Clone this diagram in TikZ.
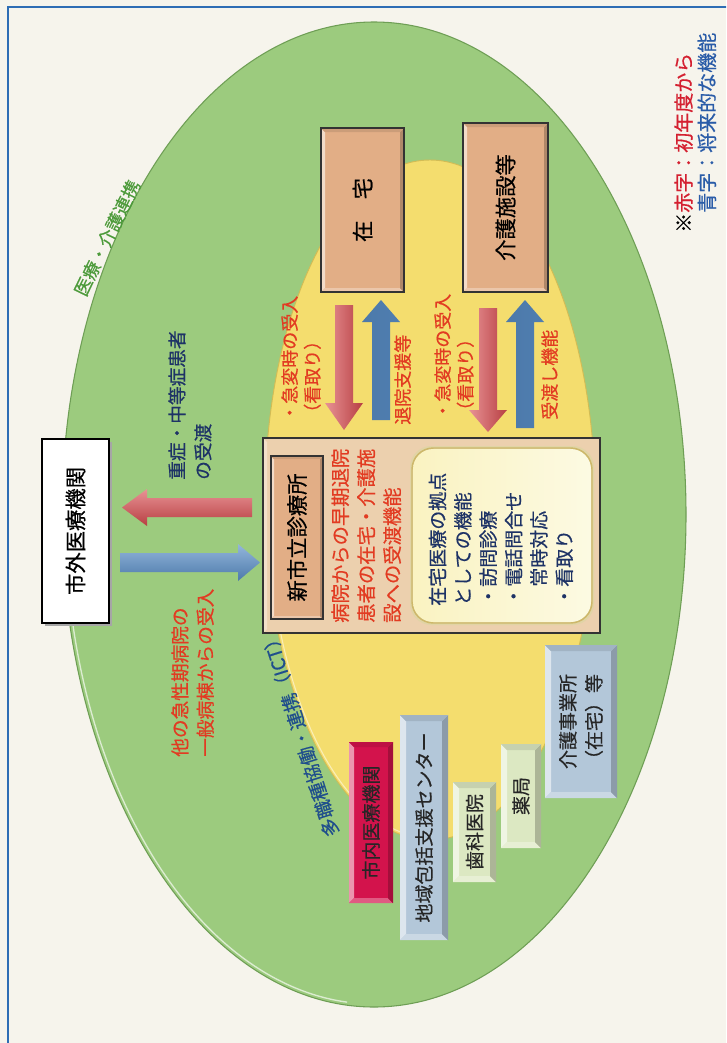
\documentclass[tikz,border=0pt]{standalone}
\usepackage{fontspec}
\setmainfont{Noto Sans CJK JP}[FakeBold=0.5]
\usetikzlibrary{calc}
\definecolor{bg}{HTML}{F6F4EC}
\definecolor{framec}{HTML}{2E6DB4}
\definecolor{grn}{HTML}{9CCB7E}
\definecolor{grnd}{HTML}{6E9E55}
\definecolor{yel}{HTML}{F4DD6E}
\definecolor{yeld}{HTML}{D2BC55}
\definecolor{tan}{HTML}{E2AE86}
\definecolor{peach}{HTML}{ECD0AE}
\definecolor{cream}{HTML}{FBF8D6}
\definecolor{creamd}{HTML}{CDB86A}
\definecolor{redtxt}{HTML}{E23B22}
\definecolor{navy}{HTML}{1E3366}
\definecolor{icttxt}{HTML}{1F4E8C}
\definecolor{grntxt}{HTML}{4C9A3A}
\definecolor{crim}{HTML}{D3134C}
\definecolor{bluebox}{HTML}{B3C7D9}
\definecolor{grnbox}{HTML}{DCE8C2}
\definecolor{legr}{HTML}{D42030}
\definecolor{legb}{HTML}{2A5CA8}
\definecolor{arrR}{HTML}{D84A4E}
\definecolor{arrB}{HTML}{5A8FC8}
\newcommand\fsz[2]{\fontsize{#1}{#2}\selectfont}
% bevelled box: x1 y1 x2 y2 colour depth
\newcommand\bevel[6]{%
 \fill[#5] (#1,#2) rectangle (#3,#4);
 \fill[#5!45!white] (#1,#2) -- (#1+#6,#2+#6) -- (#1+#6,#4-#6) -- (#1,#4) -- cycle;
 \fill[#5!70!white] (#1,#4) -- (#1+#6,#4-#6) -- (#3-#6,#4-#6) -- (#3,#4) -- cycle;
 \fill[#5!78!black] (#3,#2) -- (#3-#6,#2+#6) -- (#3-#6,#4-#6) -- (#3,#4) -- cycle;
 \fill[#5!90!black] (#1,#2) -- (#1+#6,#2+#6) -- (#3-#6,#2+#6) -- (#3,#2) -- cycle;
}
\tikzset{
 rt/.style={rotate=90, anchor=north west, inner sep=0pt, align=left},
 rc/.style={rotate=90, anchor=center, inner sep=0pt, align=left},
 redarrow/.style={left color=arrR!60!white, middle color=arrR, right color=arrR!85!black},
 bluearrow/.style={left color=arrB!85!black, middle color=arrB!65!white, right color=arrB!88!black},
 redharrow/.style={top color=arrR!60!white, middle color=arrR, bottom color=arrR!85!black},
 blueharrow/.style={top color=arrB!65!white, middle color=arrB, bottom color=arrB!85!black},
 darkborder/.style={draw=black!80, line width=0.9pt},
}
\begin{document}
\begin{tikzpicture}[x=0.75pt,y=-0.75pt]
\useasboundingbox (0,0) rectangle (726,1043);
\clip (0,0) rectangle (726,1043);
\fill[bg] (0,0) rectangle (726,1043);
\draw[framec, line width=2.2pt] (8,7) rectangle (780,1100);

% outer green ellipse
\fill[grn, draw=grnd, line width=0.8pt] (374,514.5) ellipse [x radius=312, y radius=492.5];
\draw[white, opacity=0.65, line width=1pt] (374,514.5) ++(175:309 and 489.5) arc[start angle=175, end angle=95, x radius=309, y radius=489.5];
% inner yellow ellipse
\fill[yel, draw=yeld, line width=0.7pt] (430,500) ellipse [x radius=165, y radius=340];
\draw[white, opacity=0.5, line width=0.8pt] (430,500) ++(165:162.5 and 337.5) arc[start angle=165, end angle=100, x radius=162.5, y radius=337.5];

% legend
\node[rt, font=\fsz{15}{17.5}] (legend) at (674,233) {※\textcolor{legr}{赤字：初年度から}\\\phantom{※}\textcolor{legb}{青字：将来的な機能}};

% arc labels
\node[rc, rotate=-26, font=\fsz{13.5}{16}, text=grntxt] (iryokaigo) at (107,238) {医療・介護連携};
\node[rotate=107.5, anchor=center, inner sep=0pt, font=\fsz{14}{16}, text=icttxt] (ict) at (310,765) {多職種協働・連携};
\node[rotate=107.5, anchor=west, inner sep=0pt, font=\fsz{14}{16}, text=icttxt] (ictb) at (ict.east) {（ICT）};

% outside medical institution box
\fill[black!35] (45,442) rectangle (112,626);
\node[draw=black, line width=1.1pt, fill=white, rotate=90, minimum width=138pt, minimum height=50.25pt, inner sep=0pt, font=\fsz{16}{18}] (gaibu) at (75.5,531) {市外医療機関};

% home / care facility boxes
\bevel{321}{128}{404}{292}{tan}{4}
\draw[darkborder] (321,128) rectangle (404,292);
\node[rc, font=\fsz{16}{18}] (zaitaku) at (362.5,210) {在　宅};
\bevel{463}{123}{548}{292}{tan}{4}
\draw[darkborder] (463,123) rectangle (548,292);
\node[rc, font=\fsz{16}{18}] (kaigo) at (505.5,207.5) {介護施設等};

% new municipal clinic
\fill[peach] (263,438) rectangle (600,633);
\fill[white, opacity=0.35] (263,438) -- (267,442) -- (267,629) -- (263,633) -- cycle;
\draw[darkborder] (263,438) rectangle (600,633);
\bevel{271}{456}{323}{619}{tan}{3}
\draw[darkborder] (271,456) rectangle (323,619);
\node[rc, font=\fsz{16}{18}] (clinic) at (297,537.5) {新市立診療所};
\node[rt, font=\fsz{14.5}{19.5}, text=redtxt] (clinictxt) at (331,623) {病院からの早期退院\\患者の在宅・介護施\\設への受渡機能};
\fill[creamd!60!white, rounded corners=16pt] (410,446) rectangle (594,625);
\shade[rounded corners=15pt, left color=cream!80!yel, right color=cream!70!white] (413,449) rectangle (591,622);
\draw[creamd, line width=1.1pt, rounded corners=16pt] (412,448) rectangle (592,623);
\node[rt, font=\fsz{14.25}{19}, text=navy] (homecare) at (428.5,606) {在宅医療の拠点\\としての機能\\・訪問診療\\・電話問合せ\\\phantom{・}常時対応\\・看取り};

% vertical arrows
\shade[redarrow] (335,305) -- (353,305) -- (353,403) -- (363,403) -- (344,430) -- (325,403) -- (335,403) -- cycle;
\shade[bluearrow] (372,420) -- (390,420) -- (390,322) -- (400,322) -- (381,300) -- (362,322) -- (372,322) -- cycle;
\shade[redarrow] (479,308) -- (497,308) -- (497,410) -- (507,410) -- (488,432) -- (469,410) -- (479,410) -- cycle;
\shade[bluearrow] (516,428) -- (534,428) -- (534,322) -- (544,322) -- (525,300) -- (506,322) -- (516,322) -- cycle;
% horizontal arrows
\shade[redharrow] (252,498) -- (252,517) -- (147,517) -- (147,526) -- (122,507.5) -- (147,489) -- (147,498) -- cycle;
\shade[blueharrow] (120,553) -- (120,572) -- (238,572) -- (238,581) -- (260,562.5) -- (238,544) -- (238,553) -- cycle;

% arrow labels
\node[rt, font=\fsz{13.5}{17}, text=redtxt] (kyuhen1) at (281,422) {・急変時の受入\\（看取り）};
\node[rt, font=\fsz{13.5}{17}, text=redtxt] (taiin) at (394,425) {退院支援等};
\node[rt, font=\fsz{13.5}{17}, text=redtxt] (kyuhen2) at (434,420) {・急変時の受入\\（看取り）};
\node[rt, font=\fsz{13.5}{17}, text=redtxt] (ukewatashi) at (541,420) {受渡し機能};
\node[rt, font=\fsz{14}{19.5}, text=navy] (jusho) at (168,480) {重症・中等症患者\\の受渡};
\node[rt, font=\fsz{14}{19}, text=redtxt] (tano) at (171,757) {他の急性期病院の\\一般病棟からの受入};

% community boxes
\bevel{349}{742}{393}{903}{crim}{5}
\node[rc, font=\fsz{14.25}{17}, text=black!85] (shinai) at (371,822.5) {市内医療機関};
\bevel{400}{715}{448}{940}{bluebox}{6}
\node[rc, font=\fsz{14.25}{17}, text=black!85] (chiiki) at (424,827.5) {地域包括支援センター};
\bevel{453}{782}{496}{882}{grnbox}{6}
\node[rc, font=\fsz{14.25}{17}, text=black!85] (shika) at (474.5,832) {歯科医院};
\bevel{501}{744}{541}{848}{grnbox}{6}
\node[rc, font=\fsz{14.25}{17}, text=black!85] (yakkyoku) at (521,796) {薬局};
\bevel{545}{645}{617}{798}{bluebox}{6}
\node[rc, font=\fsz{14.25}{19.5}, text=black!85] (jigyosho) at (581,721.5) {介護事業所\\（在宅）等};
\end{tikzpicture}
\end{document}
